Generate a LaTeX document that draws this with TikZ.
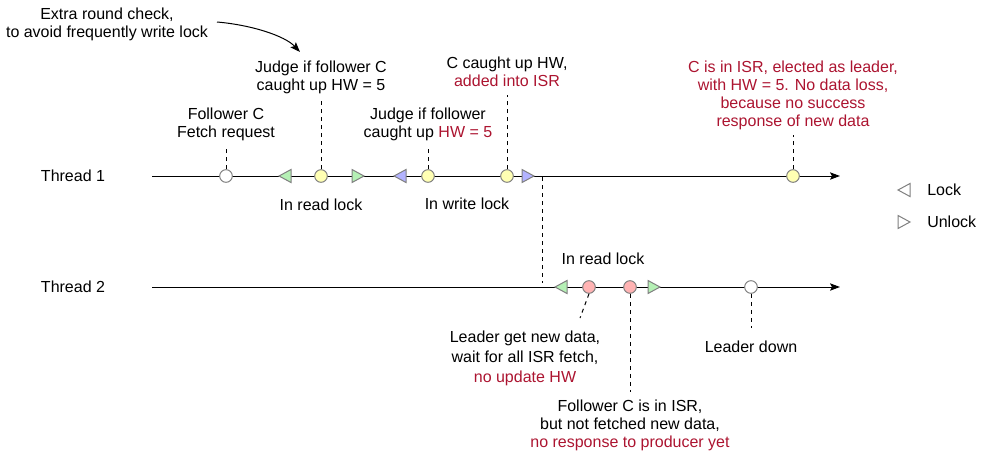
\documentclass[tikz,border=0pt]{standalone}
\usepackage{fontspec}
\setmainfont{Liberation Sans}
\usetikzlibrary{arrows.meta}
\definecolor{redtxt}{HTML}{AC1430}
\definecolor{greenf}{HTML}{B5F0B5}
\definecolor{bluef}{HTML}{B3B3FF}
\definecolor{yellowf}{HTML}{FFFFB3}
\definecolor{redf}{HTML}{FFB3B3}
\definecolor{strokeg}{HTML}{808080}
\begin{document}
\begin{tikzpicture}[x=0.75pt,y=-0.75pt,
  txt/.style={font=\fontsize{12}{13.5}\selectfont, align=center, inner sep=0pt},
  txtw/.style={font=\fontsize{12}{15}\selectfont, align=center, inner sep=0pt},
  dot/.style={circle, draw=strokeg, line width=0.75pt, minimum size=9.5pt, inner sep=0pt},
  timeline/.style={line width=0.75pt, -{Stealth[length=7.5pt,width=5.5pt,inset=1.5pt]}},
  dashline/.style={line width=0.75pt, dash pattern=on 3pt off 3pt},
  ltri/.pic={\draw[draw=strokeg, line width=0.75pt, fill=#1] (6,-6.5) -- (-6,0) -- (6,6.5) -- cycle;},
  rtri/.pic={\draw[draw=strokeg, line width=0.75pt, fill=#1] (-6,-6.5) -- (6,0) -- (-6,6.5) -- cycle;},
]
\useasboundingbox (0,0) rectangle (982,458);

% thread labels
\node[txt] (t1) at (73,176) {Thread 1};
\node[txt] (t2) at (73,287) {Thread 2};

% timelines
\coordinate (s1) at (152,176);
\coordinate (e1) at (840,176);
\coordinate (s2) at (152,287);
\coordinate (e2) at (840,287);
\draw[timeline] (s1) -- (e1);
\draw[timeline] (s2) -- (e2);

% thread 1 markers
\pic at (285,176) {ltri=greenf};
\pic at (358,176) {rtri=greenf};
\pic at (400,176) {ltri=bluef};
\pic at (528,176) {rtri=bluef};
\node[dot, fill=white] (f1) at (226,176) {};
\node[dot, fill=yellowf] (j1) at (321,176) {};
\node[dot, fill=yellowf] (j2) at (428,176) {};
\node[dot, fill=yellowf] (cu) at (507,176) {};
\node[dot, fill=yellowf] (el) at (793,176) {};

% thread 2 markers
\pic at (561,287) {ltri=greenf};
\pic at (654,287) {rtri=greenf};
\node[dot, fill=redf] (r1) at (589,287) {};
\node[dot, fill=redf] (r2) at (630,287) {};
\node[dot, fill=white] (ld) at (751,287) {};

% labels thread 1
\node[txt] (extra) at (107,24.5) {Extra round check,\\to avoid frequently write lock};
\node[txt] (lj1) at (321,77) {Judge if follower C\\caught up HW = 5};
\node[txt] (lf1) at (226,124) {Follower C\\Fetch request};
\node[txt] (lj2) at (428,124) {Judge if follower\\caught up \textcolor{redtxt}{HW = 5}};
\node[txt] (lcu) at (507,72) {C caught up HW,\\\textcolor{redtxt}{added into ISR}};
\node[txt, text=redtxt] (lel) at (793,95) {C is in ISR, elected as leader,\\with HW = 5. No data loss,\\because no success\\response of new data};
\node[txt] (rl1) at (321,205) {In read lock};
\node[txt] (wl1) at (467,204) {In write lock};

% labels thread 2
\node[txt] (rl2) at (603,259) {In read lock};
\node[txtw] (lr1) at (525,358) {Leader get new data,\\wait for all ISR fetch,\\\textcolor{redtxt}{no update HW}};
\node[txt] (lr2) at (630,425) {Follower C is in ISR,\\but not fetched new data,\\\textcolor{redtxt}{no response to producer yet}};
\node[txt] (lld) at (751,347) {Leader down};

% legend
\pic at (904,190) {ltri=white};
\pic at (904,222) {rtri=white};
\node[txt, anchor=west] (lock) at (927,190) {Lock};
\node[txt, anchor=west] (unlock) at (927,222) {Unlock};

% dashed leaders
\coordinate (df1) at (226,147);
\coordinate (dj1) at (321,101);
\coordinate (dj2) at (428,148);
\coordinate (dcu) at (507,95);
\coordinate (del) at (793,135);
\coordinate (dx1) at (542,177);
\coordinate (dx2) at (542,283);
\coordinate (dr1) at (580,318);
\coordinate (dr2) at (630,392);
\coordinate (dld) at (751,328);
\draw[dashline] (f1.north) -- (df1);
\draw[dashline] (j1.north) -- (dj1);
\draw[dashline] (j2.north) -- (dj2);
\draw[dashline] (cu.north) -- (dcu);
\draw[dashline] (el.north) -- (del);
\draw[dashline] (dx1) -- (dx2);
\draw[dashline] (r1.south) -- (dr1);
\draw[dashline] (r2.south) -- (dr2);
\draw[dashline] (ld.south) -- (dld);

% curved arrow
\coordinate (ca) at (217,22);
\coordinate (cb) at (300,52);
\draw[line width=0.75pt, -{Stealth[length=7.5pt,width=5.5pt,inset=1.5pt]}] (ca) .. controls (252,25) and (285,36) .. (cb);
\end{tikzpicture}
\end{document}
